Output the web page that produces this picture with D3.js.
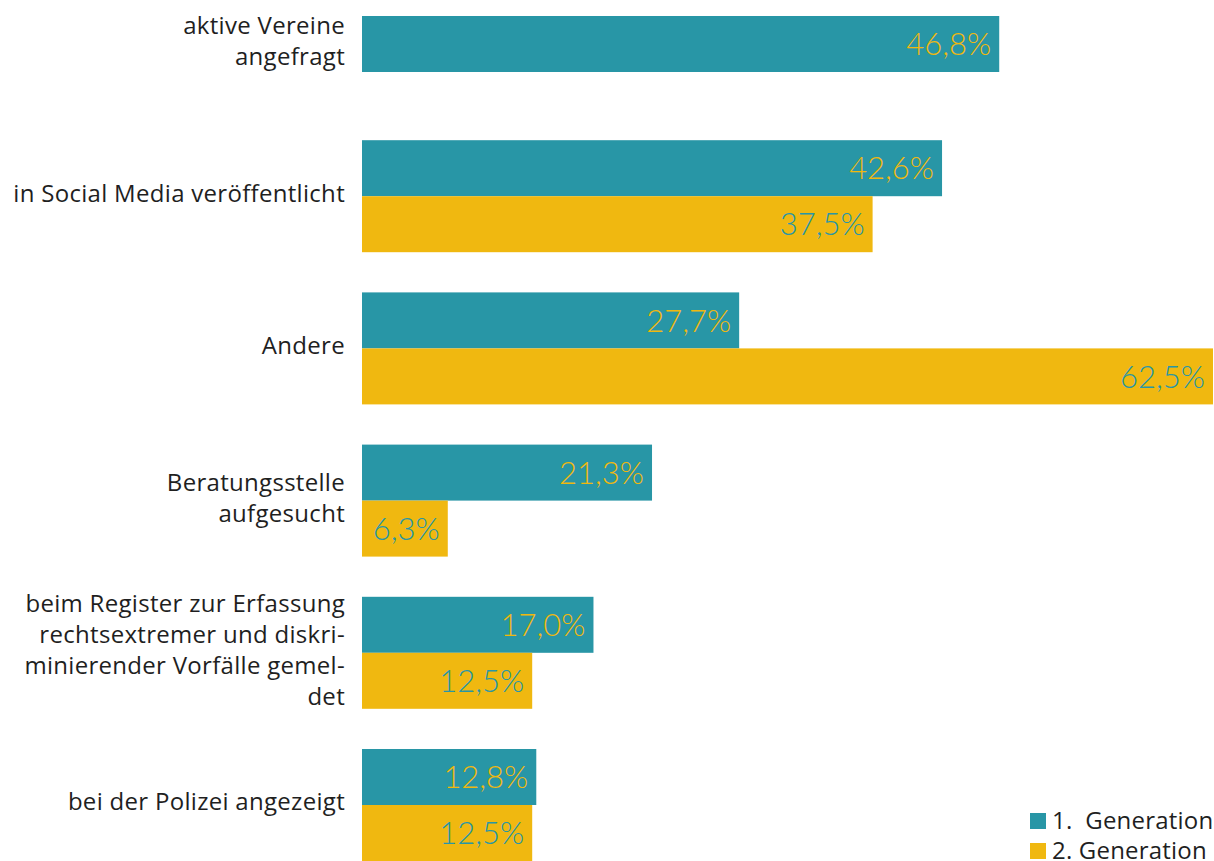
<!DOCTYPE html>
<html>
<head>
<meta charset="utf-8">
<script src="https://cdn.jsdelivr.net/npm/d3@7"></script>
<style>
  body { margin: 0; background: #fff; }
  svg { display: block; font-family: "Open Sans", "Lato", sans-serif; }
  .cat-label { fill: #1f1f1f; font-size: 24px; letter-spacing: 0.3px; }
  .value-label { font-family: "Lato", sans-serif; font-size: 31px; font-weight: 300; }
  .legend-label { fill: #1f1f1f; font-size: 24px; letter-spacing: 0.2px; }
</style>
</head>
<body>
<div id="chart"></div>
<script>
// categories, with the line breaks as they appear in the chart
const categories = [
    ["aktive Vereine", "angefragt"],
    ["in Social Media veröffentlicht"],
    ["Andere"],
    ["Beratungsstelle", "aufgesucht"],
    ["beim Register zur Erfassung", "rechtsextremer und diskri-", "minierender Vorfälle gemel-", "det"],
    ["bei der Polizei angezeigt"]
];
const seriesNames = ["1.  Generation", "2. Generation"];
const gen1 = [46.8, 42.6, 27.7, 21.3, 17.0, 12.8];
const gen2 = [null, 37.5, 62.5, 6.3, 12.5, 12.5];
const colors = ["#2896a6", "#f0b810"];

const width = 1214;
const height = 861;

const data = categories.map((c, i) => ({
    key: c.join(" "),
    lines: c,
    values: [gen1[i], gen2[i]]
        .map((v, s) => ({ series: s, value: v }))
        .filter(d => d.value !== null)
}));

const svg = d3.select("#chart").append("svg")
    .attr("width", width)
    .attr("height", height);

const xScale = d3.scaleLinear()
    .domain([0, 62.5])
    .range([362, 1213]);

const yScale = d3.scalePoint()
    .domain(data.map(d => d.key))
    .range([44, 805]);

const barH = 56;

const groups = svg.selectAll(".group")
    .data(data)
    .join("g")
    .attr("class", "group")
    .attr("transform", d => `translate(0,${yScale(d.key)})`);

// bars: two per group, a single bar is centered on the group
groups.each(function(d) {
    const g = d3.select(this);
    const n = d.values.length;
    const inner = d3.scaleBand()
        .domain(d3.range(n))
        .range([-barH * n / 2, barH * n / 2]);

    g.selectAll("rect")
        .data(d.values)
        .join("rect")
        .attr("x", xScale(0))
        .attr("y", (v, i) => inner(i))
        .attr("width", v => xScale(v.value) - xScale(0))
        .attr("height", inner.bandwidth())
        .attr("fill", v => colors[v.series]);

    g.selectAll(".value-label")
        .data(d.values)
        .join("text")
        .attr("class", "value-label")
        .attr("x", v => xScale(v.value) - 8)
        .attr("y", (v, i) => inner(i) + inner.bandwidth() / 2)
        .attr("dy", "0.36em")
        .attr("text-anchor", "end")
        .attr("fill", v => colors[1 - v.series])
        .text(v => d3.format(".1f")(v.value).replace(".", ",") + "%");

    const lineH = 31;
    g.append("text")
        .attr("class", "cat-label")
        .attr("text-anchor", "end")
        .selectAll("tspan")
        .data(d.lines)
        .join("tspan")
        .attr("x", 345)
        .attr("y", (l, i) => (i - (d.lines.length - 1) / 2) * lineH - 3)
        .attr("dy", "0.35em")
        .text(l => l);
});

// legend
const legend = svg.append("g")
    .selectAll("g")
    .data(seriesNames)
    .join("g")
    .attr("transform", (d, i) => `translate(1030,${813 + i * 30})`);

legend.append("rect")
    .attr("width", 16)
    .attr("height", 16)
    .attr("fill", (d, i) => colors[i]);

legend.append("text")
    .attr("class", "legend-label")
    .attr("x", 22)
    .attr("y", 7)
    .attr("dy", "0.36em")
    .style("white-space", "pre")
    .text(d => d);
</script>
</body>
</html>
